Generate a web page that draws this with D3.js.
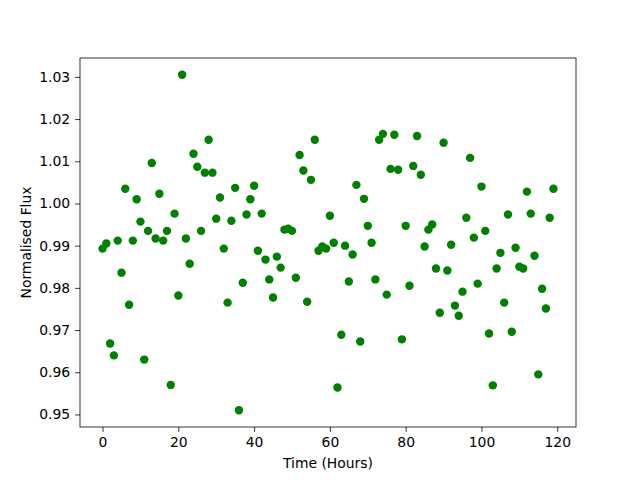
<!DOCTYPE html>
<html>
<head>
<meta charset="utf-8">
<script src="https://cdn.jsdelivr.net/npm/d3@7"></script>
<style>
  body { margin: 0; background: #fff; }
  svg text { font-family: "DejaVu Sans", sans-serif; }
</style>
</head>
<body>
<svg id="chart" width="640" height="480"></svg>
<script>
// hourly samples, 0..119
const hours = d3.range(0, 120);
const flux = [
  0.9893, 0.9905, 0.9668, 0.9640, 0.9912, 0.9836, 1.0035, 0.9760, 0.9912, 1.0010,
  0.9957, 0.9630, 0.9935, 1.0096, 0.9917, 1.0023, 0.9912, 0.9935, 0.9570, 0.9976,
  0.9782, 1.0305, 0.9917, 0.9857, 1.0118, 1.0087, 0.9935, 1.0073, 1.0151, 1.0073,
  0.9964, 1.0014, 0.9893, 0.9765, 0.9959, 1.0037, 0.9510, 0.9812, 0.9974, 1.0010,
  1.0042, 0.9888, 0.9976, 0.9867, 0.9820, 0.9777, 0.9874, 0.9848, 0.9938, 0.9940,
  0.9935, 0.9824, 1.0115, 1.0078, 0.9767, 1.0056, 1.0151, 0.9888, 0.9898, 0.9893,
  0.9971, 0.9907, 0.9564, 0.9689, 0.9900, 0.9815, 0.9879, 1.0044, 0.9673, 1.0011,
  0.9947, 0.9907, 0.9820, 1.0151, 1.0165, 0.9784, 1.0082, 1.0163, 1.0080, 0.9678,
  0.9947, 0.9805, 1.0089, 1.0160, 1.0068, 0.9898, 0.9938, 0.9950, 0.9846, 0.9741,
  1.0144, 0.9841, 0.9902, 0.9758, 0.9734, 0.9791, 0.9966, 1.0108, 0.9919, 0.9810,
  1.0040, 0.9935, 0.9692, 0.9569, 0.9846, 0.9883, 0.9765, 0.9974, 0.9696, 0.9895,
  0.9850, 0.9846, 1.0028, 0.9976, 0.9876, 0.9595, 0.9798, 0.9751, 0.9966, 1.0035
];
const xTicks = [0, 20, 40, 60, 80, 100, 120];
const yTicks = [0.95, 0.96, 0.97, 0.98, 0.99, 1.00, 1.01, 1.02, 1.03];

const margin = { top: 58, right: 64, bottom: 53, left: 80 };
const width = 640 - margin.left - margin.right;
const height = 480 - margin.top - margin.bottom;

const svg = d3.select('#chart');
const g = svg.append('g').attr('transform', `translate(${margin.left},${margin.top})`);

// matplotlib-style 5% padding
const pad = (ext) => {
  const d = (ext[1] - ext[0]) * 0.05;
  return [ext[0] - d, ext[1] + d];
};
const x = d3.scaleLinear().domain(pad(d3.extent(hours))).range([0, width]);
const y = d3.scaleLinear().domain(pad(d3.extent(flux))).range([height, 0]);

g.selectAll('circle')
  .data(hours)
  .join('circle')
  .attr('cx', (d) => x(d))
  .attr('cy', (d, i) => y(flux[i]))
  .attr('r', 4.2)
  .attr('fill', '#008000');

const xAxis = g.append('g')
  .attr('transform', `translate(0,${height})`)
  .call(d3.axisBottom(x).tickValues(xTicks).tickSize(4.9).tickPadding(4.9).tickFormat(d3.format('d')));
const yAxis = g.append('g')
  .call(d3.axisLeft(y).tickValues(yTicks).tickSize(4.9).tickPadding(4.9).tickFormat(d3.format('.2f')));

[xAxis, yAxis].forEach((a) => {
  a.select('.domain').remove();
  a.selectAll('.tick line').attr('stroke', '#000').attr('stroke-width', 0.8);
  a.selectAll('.tick text').attr('font-size', 13.9).attr('fill', '#000')
    .style('font-family', '"DejaVu Sans", sans-serif');
});

g.append('rect')
  .attr('width', width).attr('height', height)
  .attr('fill', 'none').attr('stroke', '#000').attr('stroke-width', 0.8);

svg.append('text')
  .attr('x', margin.left + width / 2).attr('y', 468)
  .attr('text-anchor', 'middle').attr('font-size', 13.9)
  .text('Time (Hours)');

svg.append('text')
  .attr('transform', `translate(31,${margin.top + height / 2}) rotate(-90)`)
  .attr('text-anchor', 'middle').attr('font-size', 13.9)
  .text('Normalised Flux');
</script>
</body>
</html>
